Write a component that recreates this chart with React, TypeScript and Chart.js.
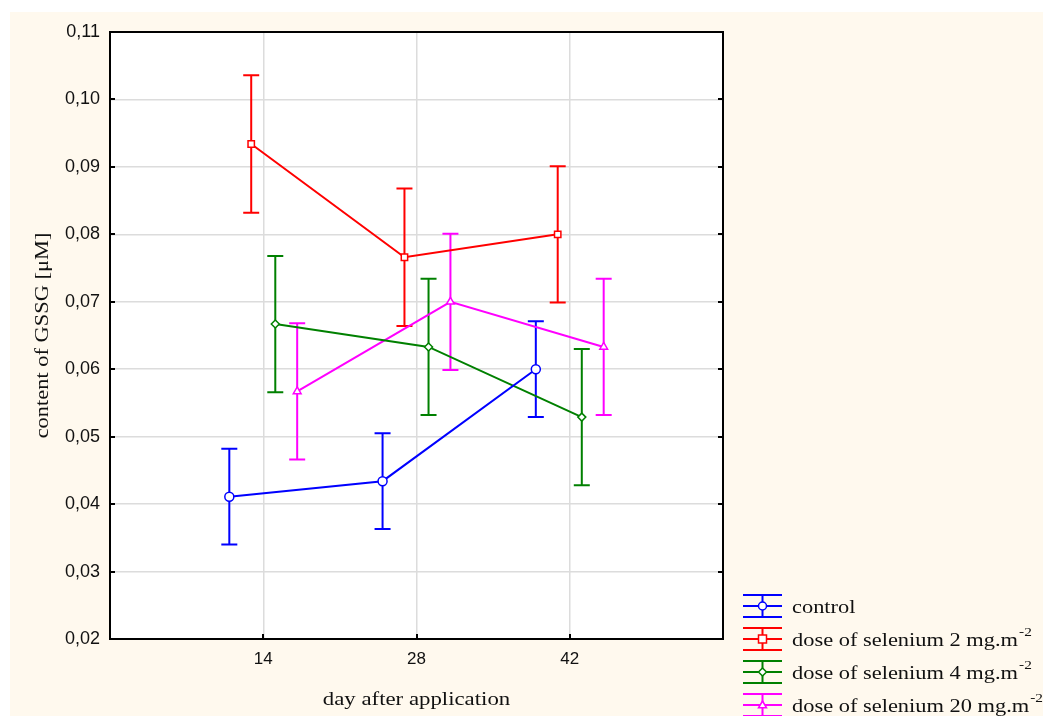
import React, { useEffect, useRef } from 'react';
import { Chart, registerables } from 'chart.js';

Chart.register(...registerables);

// ---- data ----
const days = [14, 28, 42];
const seriesNames = ['control', 'dose of selenium 2 mg.m', 'dose of selenium 4 mg.m', 'dose of selenium 20 mg.m'];
const seriesSup = ['', '-2', '-2', '-2'];
const seriesColors = ['#0000ff', '#ff0000', '#008000', '#ff00ff'];
const seriesMarkers = ['circle', 'rect', 'rectRot', 'triangle'];
const seriesDodge = [-3.1, -1.1, 1.1, 3.1];

const controlMean = [0.0411, 0.0434, 0.0600];
const controlErr = [0.0071, 0.0071, 0.0071];
const se2Mean = [0.0934, 0.0766, 0.0800];
const se2Err = [0.0102, 0.0102, 0.0101];
const se4Mean = [0.0667, 0.0633, 0.0529];
const se4Err = [0.0101, 0.0101, 0.0101];
const se20Mean = [0.0567, 0.0700, 0.0633];
const se20Err = [0.0101, 0.0101, 0.0101];

const means = [controlMean, se2Mean, se4Mean, se20Mean];
const errs = [controlErr, se2Err, se4Err, se20Err];

const xTitle = 'day after application';
const yTitle = 'content of GSSG [\u03bcM]';

const yTickMin = 0.02;
const yTickMax = 0.11;
const xMin = 0;
const xMax = 56;

const serif = '"Liberation Serif", "Times New Roman", serif';
const sans = '"Liberation Sans", Arial, sans-serif';
const STRETCH = 1.2;

function stretchedText(ctx: CanvasRenderingContext2D, text: string, x: number, y: number, sx: number) {
  ctx.save();
  ctx.translate(x, y);
  ctx.scale(sx, 1);
  ctx.fillText(text, 0, 0);
  ctx.restore();
}

function drawMarker(ctx: CanvasRenderingContext2D, style: string, x: number, y: number, r: number) {
  ctx.beginPath();
  if (style === 'circle') {
    ctx.arc(x, y, r, 0, Math.PI * 2);
  } else if (style === 'rect') {
    ctx.rect(x - r, y - r, 2 * r, 2 * r);
  } else if (style === 'rectRot') {
    ctx.moveTo(x, y - r);
    ctx.lineTo(x + r, y);
    ctx.lineTo(x, y + r);
    ctx.lineTo(x - r, y);
    ctx.closePath();
  } else {
    ctx.moveTo(x, y - r);
    ctx.lineTo(x + r, y + r * 0.7);
    ctx.lineTo(x - r, y + r * 0.7);
    ctx.closePath();
  }
  ctx.fillStyle = '#ffffff';
  ctx.fill();
  ctx.stroke();
}

const decorPlugin = {
  id: 'decor',
  beforeDraw(chart: any) {
    const { ctx, width, height, chartArea } = chart;
    ctx.save();
    ctx.fillStyle = '#ffffff';
    ctx.fillRect(0, 0, width, height);
    ctx.fillStyle = '#fff9ee';
    ctx.fillRect(10, 12, width - 10, height - 12);
    ctx.fillStyle = '#ffffff';
    ctx.fillRect(chartArea.left, chartArea.top, chartArea.right - chartArea.left, chartArea.bottom - chartArea.top);
    ctx.restore();
  },
  beforeDatasetsDraw(chart: any) {
    const { ctx, scales } = chart;
    const xs = scales.x;
    const ys = scales.y;
    ctx.save();
    chart.data.datasets.forEach((ds: any, i: number) => {
      ctx.strokeStyle = seriesColors[i];
      ctx.lineWidth = 2;
      ds.data.forEach((p: any, j: number) => {
        const x = xs.getPixelForValue(p.x);
        const yt = ys.getPixelForValue(means[i][j] + errs[i][j]);
        const yb = ys.getPixelForValue(means[i][j] - errs[i][j]);
        ctx.beginPath();
        ctx.moveTo(x, yt);
        ctx.lineTo(x, yb);
        ctx.moveTo(x - 8, yt);
        ctx.lineTo(x + 8, yt);
        ctx.moveTo(x - 8, yb);
        ctx.lineTo(x + 8, yb);
        ctx.stroke();
      });
    });
    ctx.restore();
  },
  afterDraw(chart: any) {
    const { ctx, chartArea, scales } = chart;
    const { left, right, top, bottom } = chartArea;
    ctx.save();
    // inward tick marks
    ctx.strokeStyle = '#000000';
    ctx.lineWidth = 2;
    ctx.beginPath();
    scales.y.ticks.forEach((t: any) => {
      const y = Math.round(scales.y.getPixelForValue(t.value));
      ctx.moveTo(left, y);
      ctx.lineTo(left + 5, y);
      ctx.moveTo(right, y);
      ctx.lineTo(right - 5, y);
    });
    days.forEach((d) => {
      const x = Math.round(scales.x.getPixelForValue(d));
      ctx.moveTo(x, bottom);
      ctx.lineTo(x, bottom - 5);
    });
    ctx.stroke();
    // frame
    ctx.lineWidth = 2;
    ctx.strokeRect(left, top, right - left, bottom - top);

    // axis titles
    ctx.fillStyle = '#111111';
    ctx.font = '19px ' + serif;
    ctx.textAlign = 'center';
    ctx.textBaseline = 'alphabetic';
    stretchedText(ctx, xTitle, (left + right) / 2, 705, STRETCH);
    ctx.save();
    ctx.translate(48, (top + bottom) / 2);
    ctx.rotate(-Math.PI / 2);
    stretchedText(ctx, yTitle, 0, 0, 1.18);
    ctx.restore();

    // legend
    const lx0 = 743;
    const lx1 = 782;
    const lcx = (lx0 + lx1) / 2;
    const rowY = [606, 639, 672, 705];
    seriesNames.forEach((name, i) => {
      const cy = rowY[i];
      ctx.strokeStyle = seriesColors[i];
      ctx.lineWidth = 2;
      ctx.beginPath();
      ctx.moveTo(lx0, cy - 11);
      ctx.lineTo(lx1, cy - 11);
      ctx.moveTo(lx0, cy + 11);
      ctx.lineTo(lx1, cy + 11);
      ctx.moveTo(lx0, cy);
      ctx.lineTo(lx1, cy);
      ctx.moveTo(lcx, cy - 11);
      ctx.lineTo(lcx, cy + 11);
      ctx.stroke();
      ctx.lineWidth = 1.5;
      drawMarker(ctx, seriesMarkers[i], lcx, cy, 4);
      ctx.fillStyle = '#111111';
      ctx.font = '19px ' + serif;
      ctx.textAlign = 'left';
      ctx.textBaseline = 'alphabetic';
      stretchedText(ctx, name, 792, cy + 7, 1.18);
      if (seriesSup[i]) {
        const w = ctx.measureText(name).width * 1.18;
        ctx.font = '13px ' + serif;
        stretchedText(ctx, seriesSup[i], 792 + w + 1, cy - 3, 1.18);
      }
    });
    ctx.restore();
  },
};

export default function App() {
  const canvasRef = useRef<HTMLCanvasElement | null>(null);

  useEffect(() => {
    document.body.style.margin = '0';
    const canvas = canvasRef.current;
    if (!canvas) return;
    const datasets = seriesNames.map((name, i) => ({
      label: name,
      data: days.map((d, j) => ({ x: d + seriesDodge[i], y: means[i][j] })),
      borderColor: seriesColors[i],
      backgroundColor: '#ffffff',
      pointBackgroundColor: '#ffffff',
      pointBorderColor: seriesColors[i],
      pointStyle: seriesMarkers[i],
      pointRadius: seriesMarkers[i] === 'rectRot' ? 4 : 4.5,
      pointBorderWidth: 1.5,
      borderWidth: 2,
      showLine: true,
      fill: false,
    }));
    const chart = new Chart(canvas, {
      type: 'scatter',
      data: { datasets },
      options: {
        animation: false,
        responsive: false,
        devicePixelRatio: 1,
        layout: { padding: { left: 0, top: 32, right: 1043 - 723, bottom: 0 } },
        plugins: {
          legend: { display: false },
          tooltip: { enabled: false },
          title: { display: false },
        },
        scales: {
          x: {
            type: 'linear',
            min: xMin,
            max: xMax,
            afterFit: (s: any) => { s.height = 716 - 639; },
            afterBuildTicks: (s: any) => { s.ticks = [xMin, ...days, xMax].map((v) => ({ value: v })); },
            ticks: {
              callback: (v: any) => (days.includes(Number(v)) ? String(v) : ''),
              color: '#111111',
              font: { family: sans, size: 17 },
              padding: 10,
              maxRotation: 0,
              autoSkip: false,
            },
            grid: { color: '#dcdcdc', lineWidth: 1.5, drawTicks: false },
            border: { display: false },
          },
          y: {
            type: 'linear',
            min: yTickMin,
            max: yTickMax,
            afterFit: (s: any) => { s.width = 110; },
            ticks: {
              stepSize: 0.01,
              callback: (v: any) => Number(v).toFixed(2).replace('.', ','),
              color: '#111111',
              font: { family: sans, size: 18 },
              padding: 10,
            },
            grid: { color: '#dcdcdc', lineWidth: 1.5, drawTicks: false },
            border: { display: false },
          },
        },
      },
      plugins: [decorPlugin],
    } as any);
    return () => chart.destroy();
  }, []);

  return <canvas ref={canvasRef} width={1043} height={716} style={{ display: 'block' }} />;
}
